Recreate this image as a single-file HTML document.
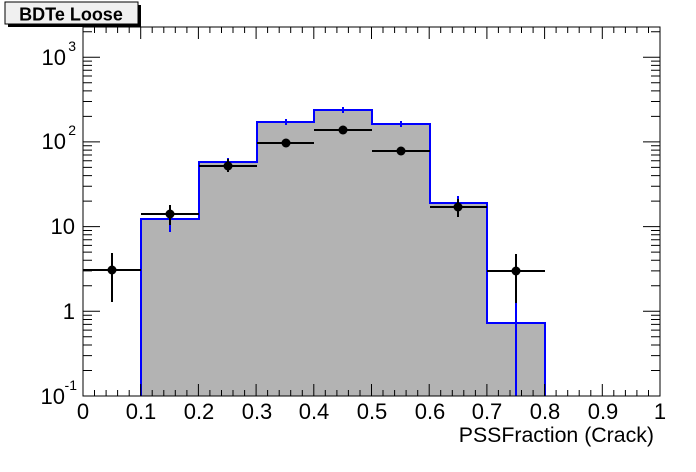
<!DOCTYPE html>
<html><head><style>body{margin:0;background:#fff}svg{display:block}text{font-family:"Liberation Sans",sans-serif}</style></head><body>
<svg width="696" height="472" viewBox="0 0 696 472" xmlns="http://www.w3.org/2000/svg">
<rect width="696" height="472" fill="#fff"/>
<path d="M141,396 V219 H199 V162 H257 V122 H314 V110 H372 V124 H430 V203 H487 V323 H545 V396 Z" fill="#b3b3b3"/>
<path d="M141,396 V219 H199 V162 H257 V122 H314 V110 H372 V124 H430 V203 H487 V323 H545 V396" fill="none" stroke="#0000ff" stroke-width="2"/>
<g stroke="#0000ff" stroke-width="2">
<line x1="170" y1="232" x2="170" y2="212"/>
<line x1="228" y1="158" x2="228" y2="166"/>
<line x1="286" y1="119" x2="286" y2="125"/>
<line x1="343" y1="107" x2="343" y2="113"/>
<line x1="401" y1="121" x2="401" y2="127"/>
<line x1="458" y1="196" x2="458" y2="210"/>
<line x1="516" y1="303" x2="516" y2="396"/>
</g>
<g stroke="#000" stroke-width="2">
<line x1="83" y1="270" x2="141" y2="270"/><line x1="112" y1="253" x2="112" y2="302"/>
<line x1="141" y1="214" x2="199" y2="214"/><line x1="170" y1="205" x2="170" y2="225"/>
<line x1="199" y1="166" x2="257" y2="166"/><line x1="228" y1="159" x2="228" y2="172"/>
<line x1="257" y1="143" x2="314" y2="143"/>
<line x1="314" y1="130" x2="372" y2="130"/>
<line x1="372" y1="151" x2="430" y2="151"/>
<line x1="430" y1="207" x2="487" y2="207"/><line x1="458" y1="199" x2="458" y2="217"/>
<line x1="487" y1="271" x2="545" y2="271"/><line x1="516" y1="254" x2="516" y2="303"/>
</g>
<g fill="#000">
<circle cx="112" cy="270" r="4.5"/><circle cx="170" cy="214" r="4.5"/><circle cx="228" cy="166" r="4.5"/>
<circle cx="286" cy="143" r="4.5"/><circle cx="343" cy="130" r="4.5"/><circle cx="401" cy="151" r="4.5"/>
<circle cx="458" cy="207" r="4.5"/><circle cx="516" cy="271" r="4.5"/>
</g>
<rect x="83" y="27" width="577" height="369" fill="none" stroke="#000" stroke-width="1"/>
<g stroke="#000" stroke-width="1" id="xt"></g>
<g stroke="#000" stroke-width="1" id="yt"></g>
<g font-size="22" fill="#000" text-anchor="middle">
<text x="83" y="419">0</text><text x="141" y="419">0.1</text><text x="199" y="419">0.2</text><text x="257" y="419">0.3</text><text x="314" y="419">0.4</text><text x="372" y="419">0.5</text><text x="430" y="419">0.6</text><text x="487" y="419">0.7</text><text x="545" y="419">0.8</text><text x="603" y="419">0.9</text><text x="660" y="419">1</text>
</g>
<g font-size="22" fill="#000" text-anchor="end">
<text x="65" y="404">10</text><text x="77" y="390" font-size="14">-1</text>
<text x="75" y="319">1</text>
<text x="75" y="234">10</text>
<text x="66" y="149">10</text><text x="76" y="135" font-size="14">2</text>
<text x="66" y="65">10</text><text x="76" y="51" font-size="14">3</text>
</g>
<text x="654" y="442" font-size="21.3" text-anchor="end" fill="#000">PSSFraction (Crack)</text>
<rect x="8" y="5" width="133" height="22" fill="#000"/>
<rect x="5" y="2" width="133" height="22" fill="#f0f0f0" stroke="#000" stroke-width="1"/>
<text x="71" y="20.5" font-size="18" font-weight="bold" text-anchor="middle" fill="#000">BDTe Loose</text>
<script>
(function(){var NS='http://www.w3.org/2000/svg';
var s='',b=396,d=84.7;
for(var e=-1;e<3.4;e++){for(var m=1;m<10;m++){var y=b-(e+1+Math.log10(m))*d;if(y<27)break;var L=m==1?17:9;
s+='M83,'+y.toFixed(1)+'h'+L+'M660,'+y.toFixed(1)+'h-'+L;}}
var p=document.createElementNS(NS,'path');p.setAttribute('d',s);document.getElementById('yt').appendChild(p);
var t='';for(var i=0;i<=50;i++){var x=83+i*577/50;var L=(i%5==0)?12:6;t+='M'+x.toFixed(1)+',396v-'+L+'M'+x.toFixed(1)+',27v'+L;}
var q=document.createElementNS(NS,'path');q.setAttribute('d',t);document.getElementById('xt').appendChild(q);})();
</script>
</svg>
</body></html>
